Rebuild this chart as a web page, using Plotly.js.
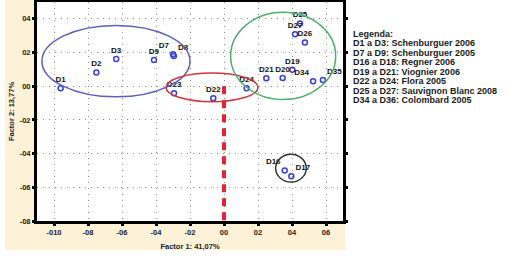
<!DOCTYPE html>
<html><head><meta charset="utf-8">
<script src="https://cdn.plot.ly/plotly-3.0.1.min.js"></script>
<style>html,body{margin:0;padding:0;background:#fff}#c{width:510px;height:260px}</style>
</head><body><div id="c"></div>
<script>
// Sample labels and factor scores
const labels = ["D1","D2","D3","D9","D7","D8","D23","D22","D24","D21","D20","D19","D34","D35","D25","D27","D26","D16","D17"];
const factor1 = [-0.0961,-0.0751,-0.0634,-0.0412,-0.0300,-0.0295,-0.0294,-0.0063,0.0133,0.0249,0.0345,0.0402,0.0524,0.0582,0.0447,0.0418,0.0476,0.0357,0.0396];
const factor2 = [-0.0012,0.0082,0.0161,0.0155,0.0190,0.0180,-0.0041,-0.0071,-0.0012,0.0047,0.0049,0.0098,0.0029,0.0037,0.0372,0.0308,0.0259,-0.0500,-0.0535];

// Group ellipses: [x0, x1, y0, y1]
const groupNames = ["Schenburguer","Flora","Viognier/Sauvignon/Colombard","Regner"];
const groupX0 = [-0.1071,-0.0341,0.0039,0.0304];
const groupX1 = [-0.0200,0.0200,0.0657,0.0484];
const groupY0 = [-0.0063,-0.0092,-0.0079,-0.0569];
const groupY1 = [0.0361,0.0078,0.0439,-0.0404];
const groupColors = ["#5b5fb8","#d2343a","#4fae6a","#333333"];

const xTickVals = [-0.10,-0.08,-0.06,-0.04,-0.02,0.00,0.02,0.04,0.06];
const xTickText = ["-010","-08","-06","-04","-02","00","02","04","06"];
const yTickVals = [-0.08,-0.06,-0.04,-0.02,0.00,0.02,0.04];
const yTickText = ["-08","-06","-04","-02","00","02","04"];

const legendLines = ["Legenda:","D1 a D3: Schenburguer 2006","D7 a D9: Schenburguer 2005","D16 a D18: Regner 2006","D19 a D21: Viognier 2006","D22 a D24: Flora 2005","D25 a D27: Sauvignon Blanc 2008","D34 a D36: Colombard 2005"];

const W=510,H=260, L=37, R=343, T=2, B=221;
const px = v => (v-L)/(R-L);
const py = v => (B-v)/(B-T);

const shapes = [
  {type:'rect', xref:'paper', yref:'paper', x0:px(5), x1:px(345), y0:py(250), y1:py(0), fillcolor:'#fdf1d8', line:{width:0}, layer:'below'},
  {type:'rect', xref:'paper', yref:'paper', x0:0, x1:1, y0:0, y1:1, fillcolor:'#ffffff', line:{width:0}, layer:'below'}
];
for (let i=0;i<groupX0.length;i++){
  shapes.push({type:'circle', xref:'x', yref:'y', x0:groupX0[i], x1:groupX1[i], y0:groupY0[i], y1:groupY1[i], line:{color:groupColors[i], width:1.5}, layer:'above'});
}
shapes.push({type:'line', xref:'x', yref:'y', x0:0, x1:0, y0:0, y1:-0.08, line:{color:'#e3262c', width:4, dash:'8px,6px'}, layer:'above'});

const annotations = legendLines.map((t,i)=>({
  xref:'paper', yref:'paper', x:px(351), y:py(33.5+i*9.55), xanchor:'left', yanchor:'middle',
  text:t, showarrow:false, font:{family:'Liberation Sans, Arial', size:9, color:'#1a1a1a', weight:'bold'}
}));

// label placement to limit overlap of close pairs
const pos = labels.map(l => ({"D7":"top left","D8":"top right","D34":"top left","D35":"top right","D16":"top left","D17":"top right"}[l] || "top center"));

const trace = {
  type:'scatter', mode:'markers+text', x:factor1, y:factor2, text:labels,
  textposition:pos,
  textfont:{family:'Liberation Sans, Arial', size:8, color:'#111111', weight:'bold'},
  marker:{symbol:'circle-open', size:5, color:'#3a3fd8', line:{width:1.5, color:'#3a3fd8'}},
  hoverinfo:'none', cliponaxis:false
};

const axFont = {family:'Liberation Sans, Arial', size:7.5, color:'#222', weight:'bold'};
const layout = {
  width:W, height:H, margin:{l:L, r:W-R, t:T, b:H-B},
  paper_bgcolor:'#ffffff', plot_bgcolor:'#ffffff', showlegend:false,
  xaxis:{range:[-0.11,0.07], tickvals:xTickVals, ticktext:xTickText, tickfont:axFont,
    showgrid:true, gridcolor:'#8a8a8a', griddash:'1px,5px', gridwidth:1, zeroline:false,
    showline:true, linecolor:'#000', linewidth:3, mirror:'ticks', ticks:'outside', ticklen:2, tickwidth:3, tickcolor:'#000',
    title:{text:'Factor 1: 41,07%', font:{family:'Liberation Sans, Arial', size:7.5, color:'#222', weight:'bold'}, standoff:8}},
  yaxis:{range:[-0.08,0.05], tickvals:yTickVals, ticktext:yTickText, tickfont:axFont,
    showgrid:true, gridcolor:'#8a8a8a', griddash:'1px,5px', gridwidth:1, zeroline:false,
    showline:true, linecolor:'#000', linewidth:3, mirror:'ticks', ticks:'outside', ticklen:2, tickwidth:3, tickcolor:'#000',
    title:{text:'Factor 2: 13,77%', font:{family:'Liberation Sans, Arial', size:7.5, color:'#222', weight:'bold'}, standoff:5}},
  shapes:shapes, annotations:annotations
};
Plotly.newPlot('c',[trace],layout,{staticPlot:true,displayModeBar:false});
</script></body></html>
